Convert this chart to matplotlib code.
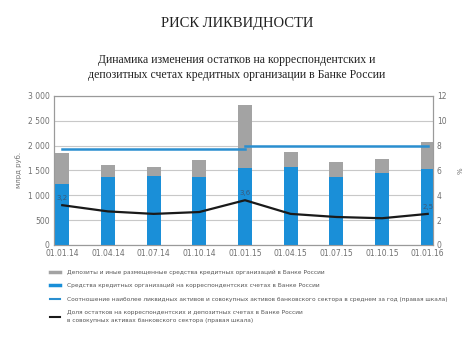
import matplotlib.pyplot as plt
from matplotlib.lines import Line2D

dates = ["01.01.14", "01.04.14", "01.07.14", "01.10.14", "01.01.15",
         "01.04.15", "01.07.15", "01.10.15", "01.01.16"]
# млрд руб.
corr_accounts = [1230, 1365, 1390, 1365, 1545, 1565, 1365, 1445, 1530]
totals = [1845, 1605, 1560, 1710, 2820, 1865, 1660, 1725, 2080]
deposits = [t - c for t, c in zip(totals, corr_accounts)]
# %, right scale
share = [3.2, 2.7, 2.5, 2.65, 3.6, 2.5, 2.25, 2.15, 2.5]
liquid_2014 = 7.7
liquid_2015 = 8.0
point_labels = {0: "3,2", 4: "3,6", 8: "2,5"}

legend_labels = [
    "Депозиты и иные размещенные средства кредитных организаций в Банке России",
    "Средства кредитных организаций на корреспондентских счетах в Банке России",
    "Соотношение наиболее ликвидных активов и совокупных активов банковского сектора в среднем за год (правая шкала)",
    "Доля остатков на корреспондентских и депозитных счетах в Банке России\nв совокупных активах банковского сектора (правая шкала)",
]

BLUE = "#1a8fd8"
GRAY = "#a3a3a3"
LINE_BLUE = "#2a8fd0"
TICK = "#707070"
narrow = ["Liberation Sans Narrow", "DejaVu Sans"]
serif = ["Liberation Serif", "DejaVu Serif"]

fig = plt.figure(figsize=(4.74, 3.55), dpi=100)
ax = fig.add_axes([0.114, 0.31, 0.799, 0.42])
ax2 = ax.twinx()

x = list(range(len(dates)))
ax.bar(x, corr_accounts, width=0.31, color=BLUE, zorder=3)
ax.bar(x, deposits, width=0.31, bottom=corr_accounts, color=GRAY, zorder=3)

ax.set_xlim(-0.18, 8.11)
ax.set_ylim(0, 3000)
ax.set_yticks(range(0, 3001, 500))
ax.set_yticklabels(["0", "500", "1 000", "1 500", "2 000", "2 500", "3 000"])
ax.set_xticks(x)
ax.set_xticklabels(dates)
ax.grid(axis="y", color="#c8c8c8", linewidth=0.8, zorder=0)
ax.set_ylabel("млрд руб.", fontsize=5, color=TICK, family=narrow, labelpad=4)

ax2.set_ylim(0, 12)
ax2.set_yticks(range(0, 13, 2))
ax2.plot([0, 4], [liquid_2014, liquid_2014], color=LINE_BLUE, lw=1.8, zorder=4)
ax2.plot([4, 8], [liquid_2015, liquid_2015], color=LINE_BLUE, lw=1.8, zorder=4)
ax2.plot(x, share, color="#1a1a1a", lw=1.6, zorder=5)
for i, lab in point_labels.items():
    ax2.text(x[i], share[i] + 0.35, lab, fontsize=5, color="#3a5a7a",
             ha="center", va="bottom", family=narrow)
ax2.set_ylabel("%", fontsize=5, color=TICK, rotation=90, labelpad=8)

for a in (ax, ax2):
    a.tick_params(labelsize=5.5, colors=TICK, length=0, pad=3)
    for lbl in a.get_xticklabels() + a.get_yticklabels():
        lbl.set_family(narrow)
    for s in a.spines.values():
        s.set_color("#9a9a9a")
        s.set_linewidth(0.8)

fig.text(0.5, 0.935, "РИСК ЛИКВИДНОСТИ", ha="center", va="center",
         fontsize=10.5, family=serif, color="#222222")
fig.text(0.5, 0.81, "Динамика изменения остатков на корреспондентских и\n"
         "депозитных счетах кредитных организации в Банке России",
         ha="center", va="center", fontsize=8.5, family=serif,
         color="#222222", linespacing=1.25)

handles = [
    Line2D([], [], color=GRAY, lw=2.5),
    Line2D([], [], color=BLUE, lw=2.5),
    Line2D([], [], color=LINE_BLUE, lw=1.5),
    Line2D([], [], color="#1a1a1a", lw=1.5),
]
leg = fig.legend(handles, legend_labels, loc="upper left",
                 bbox_to_anchor=(0.095, 0.255), frameon=False,
                 prop={"family": narrow, "size": 4.2}, handlelength=1.6,
                 handletextpad=1.3, labelspacing=1.45, labelcolor="#555555")
for t in leg.get_texts():
    t.set_linespacing(1.6)

fig.savefig("out.png", dpi=100)
